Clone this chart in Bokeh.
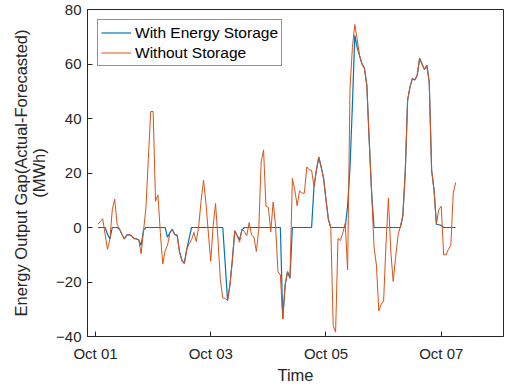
import numpy as np
import pandas as pd
from bokeh.plotting import figure
from bokeh.models import FixedTicker, DatetimeTickFormatter, Range1d
from bokeh.embed import file_html
from bokeh.resources import INLINE

# ---------------- data (hourly, starting Oct 01 01:00) ----------------
start_time = "2023-10-01 01:00"

without_storage = [
    1.2, 2.2, 3.2, -2.5, -8, -4.2, 6.6, 10.4, 1.2, -0.6,
    -2.5, -4.2, -2.8, -2.6, -3, -4, -4.2, -4.5, -9.6, -1.2,
    7.2, 25, 42.6, 42.6, 9.6, 12, -1.8, -13.4, -8.6, -6.5,
    -2, -0.6, -2.6, -2.8, -9, -12, -13.2, -8, -6, -4.5,
    -1.8, -5.2, 0.6, 10, 17.4, 9, -2, -12.4, 0.6, 8.8,
    -4.2, -19.2, -25.8, -26, -26.8, -21, -12, -1.2, -3, -5.4,
    -0.6, -1.5, -3, 1.8, -2.8, -3.5, -8.8, -0.6, 24, 28.5,
    7.8, 7.4, -1.6, 9.4, 0.6, -16.2, -17.4, -33.6, -21, -16.2,
    -18.6, 18, 13.8, 8, 13.4, 12.6, 12.6, 22.2, 21.2, 21,
    15, 21, 25.8, 22.2, 18, 10.2, 3, 0, -36, -38.4,
    -4, -4.8, -2, 1.5, -15.6, 51, 66, 74.5, 69, 63,
    60, 58.5, 52.3, 32, 13, -7, -13.8, -30.6, -28.2, -27,
    -6, 10.8, -9, -19.8, -11, -3, 0.6, 4.2, 20, 46.8,
    51.6, 54.7, 54.1, 55.9, 62.1, 60, 58, 59.5, 53.4, 21,
    13.8, 1.2, 6.6, 7.8, -10, -10, -8, -6.6, 12.6, 16.5,
]

with_storage = [
    0, 0, 0, 0, -2.5, -4.2, 0, 0, 0, -0.6,
    -2.5, -4.2, -2.8, -2.6, -3, -4, -4.2, -4.5, -6.6, -1,
    0, 0, 0, 0, 0, 0, 0, 0, 0, -3.6,
    -1.8, -0.6, -2.6, -2.8, -9, -12, -13.2, -8, -4, 0,
    0, 0, 0, 0, 0, 0, 0, 0, 0, 0,
    0, 0, 0, -13, -26.8, -21, -12, -1.2, -3, -4.5,
    -1, 0, 0, 0, 0, 0, 0, 0, 0, 0,
    0, 0, 0, 0, 0, 0, 0, -33.6, -21, -16.2,
    -18.6, 0, 0, 0, 0, 0, 0, 0, 0, 0,
    15, 21, 25.8, 22.2, 18, 10.2, 3, 0, 0, 0,
    0, 0, 0, 0, 8, 22, 45, 70.5, 66, 63,
    60, 58.5, 52.3, 32, 13, 0, 0, 0, 0, 0,
    0, 0, 0, 0, 0, 0, 0, 4.2, 20, 46.8,
    51.6, 54.7, 54.1, 55.9, 62.1, 60, 58, 59.5, 53.4, 21,
    13.8, 1.2, 1, 0.8, 0, 0, 0, 0, 0, 0,
]

tick_dates = ["2023-10-01", "2023-10-03", "2023-10-05", "2023-10-07"]
y_ticks = [-40, -20, 0, 20, 40, 60, 80]

times = pd.date_range(start_time, periods=len(without_storage), freq="h")

BLUE = "#0072BD"
ORANGE = "#D95319"
AX = "#262626"
FONT = "Liberation Sans"


def ms(ts):
    return pd.Timestamp(ts).value // 10**6


x_start = ms("2023-09-30 20:40")
x_end = ms("2023-10-08 01:56")

p = figure(width=508, height=391, x_axis_type="datetime",
           x_range=Range1d(x_start, x_end), y_range=Range1d(-40, 80),
           output_backend="svg", toolbar_location=None,
           min_border_left=87, min_border_right=5, min_border_top=9,
           min_border_bottom=55)

p.line(times, with_storage, color=BLUE, line_width=1.2, legend_label="With Energy Storage")
p.line(times, without_storage, color=ORANGE, line_width=1.0, legend_label="Without Storage")

tick_ms = [ms(d) for d in tick_dates]
fmt = DatetimeTickFormatter(days="%b %d", months="%b %d", hours="%b %d",
                            hourmin="%b %d", minutes="%b %d")

xa = p.xaxis[0]
xa.ticker = FixedTicker(ticks=tick_ms)
xa.formatter = fmt
xa.axis_label = "Time"

ya = p.yaxis[0]
ya.ticker = FixedTicker(ticks=y_ticks)
ya.axis_label = "Energy Output Gap(Actual-Forecasted)\n(MWh)"

for ax in (xa, ya):
    ax.axis_line_color = AX
    ax.major_tick_line_color = AX
    ax.major_tick_in = 5
    ax.major_tick_out = 0
    ax.minor_tick_line_color = None
    ax.major_label_text_font = FONT
    ax.major_label_text_font_size = "15px"
    ax.major_label_text_color = AX
    ax.axis_label_text_font = FONT
    ax.axis_label_text_font_size = "16.5px"
    ax.axis_label_text_font_style = "normal"
    ax.axis_label_text_color = AX
    ax.axis_label_text_line_height = 1.0

xa.major_label_standoff = 8
xa.axis_label_standoff = 1
ya.major_label_standoff = 6
ya.axis_label_standoff = 5

p.xgrid.grid_line_color = None
p.ygrid.grid_line_color = None
p.outline_line_color = AX
p.background_fill_color = "white"
p.border_fill_color = "white"

lg = p.legend[0]
lg.location = "top_left"
lg.margin = 10
lg.padding = 3
lg.spacing = 1
lg.glyph_width = 30
lg.glyph_height = 19
lg.label_height = 19
lg.label_standoff = 4
lg.label_text_font = FONT
lg.label_text_font_size = "15.5px"
lg.label_text_color = "black"
lg.border_line_color = AX
lg.border_line_width = 1
lg.background_fill_alpha = 1.0

open("out.html", "w").write(file_html(p, INLINE))
